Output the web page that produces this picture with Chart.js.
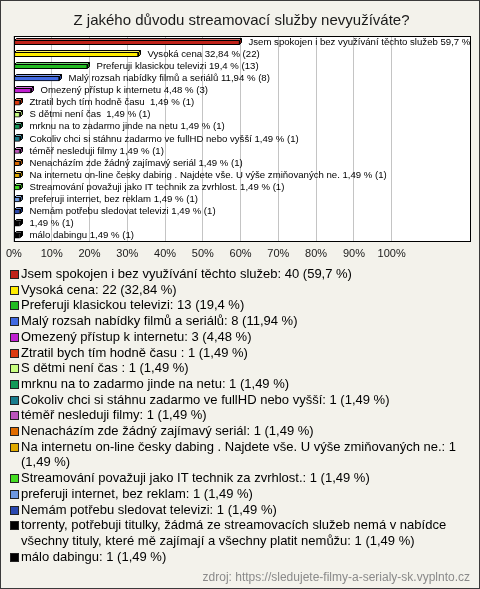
<!DOCTYPE html>
<html>
<head>
<meta charset="utf-8">
<script src="https://cdn.jsdelivr.net/npm/chart.js@4/dist/chart.umd.min.js"></script>
<style>
  html, body { margin: 0; padding: 0; }
  body { width: 480px; height: 589px; overflow: hidden; font-family: "Liberation Sans", Arial, sans-serif; }
  #page { position: relative; width: 480px; height: 589px; background: #f3f2eb; box-sizing: border-box; border: 1px solid #3a3a3a; }
  #chart { position: absolute; left: -1px; top: -1px; }
  #legend { position: absolute; left: 9px; top: 265px; width: 462px; font-size: 13px; line-height: 15.7px; color: #000; }
  .item { display: flex; align-items: flex-start; }
  .sw { flex: 0 0 auto; width: 7px; height: 7px; border: 1px solid #222; margin: 4px 2px 0 0; }
  .tx { white-space: pre-wrap; }
  #source { position: absolute; right: 9px; top: 569px; font-size: 12px; color: #8a8a8a; }
</style>
</head>
<body>
<div id="page">
  <canvas id="chart" width="480" height="270"></canvas>
  <div id="legend"></div>
  <div id="source">zdroj: https://sledujete-filmy-a-serialy-sk.vyplnto.cz</div>
</div>
<script>
const title = "Z jakého důvodu streamovací služby nevyužíváte?";

const categories = [
  "Jsem spokojen i bez využívání těchto služeb",
  "Vysoká cena",
  "Preferuji klasickou televizi",
  "Malý rozsah nabídky filmů a seriálů",
  "Omezený přístup k internetu",
  "Ztratil bych tím hodně času ",
  "S dětmi není čas ",
  "mrknu na to zadarmo jinde na netu",
  "Cokoliv chci si stáhnu zadarmo ve fullHD nebo vyšší",
  "téměř nesleduji filmy",
  "Nenacházím zde žádný zajímavý seriál",
  "Na internetu on-line česky dabing . Najdete vše. U výše zmiňovaných ne.",
  "Streamování považuji jako IT technik za zvrhlost.",
  "preferuji internet, bez reklam",
  "Nemám potřebu sledovat televizi",
  "torrenty, potřebuji titulky, žádmá ze streamovacích služeb nemá v nabídce všechny tituly, které mě zajímají a všechny platit nemůžu",
  "málo dabingu"
];

// names printed next to the bars (the long one is blank in the chart)
const barNames = categories.map((c, i) => i === 15 ? "" : c);

const counts = [40, 22, 13, 8, 3, 1, 1, 1, 1, 1, 1, 1, 1, 1, 1, 1, 1];
const percents = [59.7, 32.84, 19.4, 11.94, 4.48, 1.49, 1.49, 1.49, 1.49, 1.49, 1.49, 1.49, 1.49, 1.49, 1.49, 1.49, 1.49];
const tickValues = [0, 10, 20, 30, 40, 50, 60, 70, 80, 90, 100];

const colors = [
  "#c0231a", "#ffec00", "#22bb22", "#4169e1", "#c020d0",
  "#dd3a10", "#c8ff80", "#139958", "#197c8c", "#bb55bb",
  "#e06c00", "#e0aa00", "#44dd22", "#6e98e0", "#2a48b0",
  "#000000", "#000000"
];

const fmt = v => String(v).replace('.', ',');

function shade(hex, f) {
  const n = parseInt(hex.slice(1), 16);
  let r = (n >> 16) & 255, g = (n >> 8) & 255, b = n & 255;
  if (f > 0) { r += (255 - r) * f; g += (255 - g) * f; b += (255 - b) * f; }
  else { r *= (1 + f); g *= (1 + f); b *= (1 + f); }
  return `rgb(${Math.round(r)},${Math.round(g)},${Math.round(b)})`;
}

const DEPTH = 2;

const plotBg = {
  id: 'plotBg',
  beforeDraw(chart) {
    const { ctx, chartArea: a } = chart;
    ctx.save();
    ctx.fillStyle = '#ffffff';
    ctx.fillRect(a.left, a.top, a.right - a.left, a.bottom - a.top);
    ctx.restore();
  },
  afterDraw(chart) {
    const { ctx, chartArea: a } = chart;
    ctx.save();
    ctx.strokeStyle = '#000';
    ctx.lineWidth = 1;
    ctx.strokeRect(Math.round(a.left) + 0.5, Math.round(a.top) + 0.5, Math.round(a.right - a.left) - 1, Math.round(a.bottom - a.top) - 1);
    ctx.restore();
  }
};

const bar3d = {
  id: 'bar3d',
  afterDatasetsDraw(chart) {
    const { ctx, chartArea: a } = chart;
    const meta = chart.getDatasetMeta(0);
    ctx.save();
    ctx.beginPath();
    ctx.rect(a.left, a.top, a.right - a.left - 1, a.bottom - a.top);
    ctx.clip();
    ctx.lineWidth = 1;
    ctx.strokeStyle = '#000';
    meta.data.forEach((el, i) => {
      const p = el.getProps(['x', 'y', 'base', 'height'], true);
      const x0 = Math.round(p.base) + 0.5, x1 = Math.round(p.x) + 0.5;
      const top = Math.round(p.y - p.height / 2) + 0.5, bot = Math.round(p.y + p.height / 2) - 0.5;
      const d = DEPTH;
      ctx.beginPath();
      ctx.moveTo(x0, top); ctx.lineTo(x0 + d, top - d); ctx.lineTo(x1 + d, top - d); ctx.lineTo(x1, top); ctx.closePath();
      ctx.fillStyle = shade(colors[i], 0.35); ctx.fill(); ctx.stroke();
      ctx.beginPath();
      ctx.moveTo(x1, top); ctx.lineTo(x1 + d, top - d); ctx.lineTo(x1 + d, bot - d); ctx.lineTo(x1, bot); ctx.closePath();
      ctx.fillStyle = shade(colors[i], -0.35); ctx.fill(); ctx.stroke();
      const name = barNames[i];
      const txt = (name ? name + ' ' : '') + fmt(percents[i]) + ' % (' + counts[i] + ')';
      ctx.fillStyle = '#000';
      ctx.font = '9.6px "Liberation Sans", Arial, sans-serif';
      ctx.textBaseline = 'middle';
      ctx.textAlign = 'left';
      ctx.fillText(txt, x1 + 9, p.y);
    });
    ctx.restore();
  }
};

new Chart(document.getElementById('chart'), {
  type: 'bar',
  data: {
    labels: categories,
    datasets: [{
      data: percents,
      backgroundColor: colors,
      borderColor: '#000',
      borderWidth: 1,
      borderSkipped: false,
      barThickness: 5
    }]
  },
  options: {
    indexAxis: 'y',
    responsive: false,
    animation: false,
    devicePixelRatio: 1,
    layout: { padding: { left: 12, right: 9, top: 0, bottom: 3 } },
    plugins: {
      legend: { display: false },
      tooltip: { enabled: false },
      title: {
        display: true,
        text: title,
        color: '#1a1a1a',
        font: { family: '"Liberation Sans", Arial, sans-serif', size: 15, weight: 'normal' },
        padding: { top: 12, bottom: 6 }
      }
    },
    scales: {
      x: {
        min: 0,
        max: 121,
        afterBuildTicks(scale) { scale.ticks = tickValues.map(v => ({ value: v })); },
        border: { display: false },
        grid: { color: '#c4c4c4', drawTicks: false, lineWidth: 1 },
        ticks: {
          padding: 6,
          color: '#1a1a1a',
          font: { family: '"Liberation Sans", Arial, sans-serif', size: 11 },
          callback: v => v + '%'
        }
      },
      y: { display: false }
    }
  },
  plugins: [plotBg, bar3d]
});

const legend = document.getElementById('legend');
categories.forEach((c, i) => {
  const item = document.createElement('div');
  item.className = 'item';
  const sw = document.createElement('span');
  sw.className = 'sw';
  sw.style.background = colors[i];
  const tx = document.createElement('span');
  tx.className = 'tx';
  tx.textContent = c + ': ' + counts[i] + ' (' + fmt(percents[i]) + ' %)';
  item.appendChild(sw); item.appendChild(tx);
  legend.appendChild(item);
});
</script>
</body>
</html>
